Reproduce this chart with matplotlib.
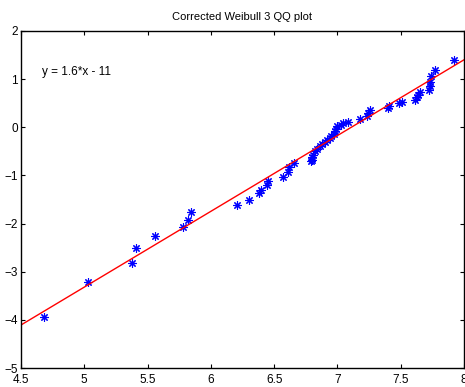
import matplotlib
matplotlib.use("Agg")
import matplotlib.pyplot as plt
import numpy as np

plt.rcParams['font.family'] = ['Liberation Sans', 'DejaVu Sans']

# sample quantiles (x) vs. reference quantiles (y)
x_data = [4.68, 5.03, 5.38, 5.41, 5.56, 5.78, 5.82, 5.84,
          6.21, 6.30, 6.38, 6.40, 6.44, 6.45, 6.57, 6.61, 6.62, 6.66,
          6.79, 6.80, 6.80, 6.81, 6.82, 6.84, 6.86, 6.88, 6.90, 6.92, 6.94,
          6.95, 6.97, 6.98, 6.99, 7.00, 7.03, 7.04, 7.08, 7.18, 7.23, 7.24,
          7.26, 7.40, 7.41, 7.49, 7.51, 7.61, 7.63, 7.64, 7.65, 7.72, 7.73,
          7.73, 7.74, 7.77, 7.92]
y_data = [-3.94, -3.22, -2.81, -2.50, -2.26, -2.08, -1.92, -1.76,
          -1.62, -1.51, -1.37, -1.31, -1.20, -1.12, -1.04, -0.92, -0.83, -0.75,
          -0.71, -0.67, -0.62, -0.58, -0.50, -0.45, -0.39, -0.34, -0.30, -0.27, -0.23,
          -0.18, -0.13, -0.08, -0.03, 0.02, 0.05, 0.09, 0.11, 0.18, 0.24, 0.30,
          0.36, 0.40, 0.45, 0.50, 0.52, 0.57, 0.62, 0.67, 0.73, 0.77, 0.86,
          0.95, 1.06, 1.18, 1.40]

slope = 1.574
intercept = -11.19
eq_label = "y = 1.6*x - 11"

fig = plt.figure(figsize=(4.65, 3.87), dpi=100)
ax = fig.add_axes([0.045, 0.049, 0.953, 0.871])

ax.plot(x_data, y_data, linestyle='none', marker=(8, 2, 0), markersize=6,
        markeredgewidth=0.8, color='#0000ff')
xl = np.array([4.5, 8.0])
ax.plot(xl, slope * xl + intercept, color='red', lw=1.0)

ax.text(4.67, 1.15, eq_label, fontsize=8.5, va='center', ha='left')
ax.set_title("Corrected Weibull 3 QQ plot", fontsize=8, pad=8)

ax.set_xlim(4.5, 8)
ax.set_ylim(-5, 2)
ax.set_xticks(np.arange(4.5, 8.01, 0.5))
ax.set_xticklabels(['4.5', '5', '5.5', '6', '6.5', '7', '7.5', '8'])
ax.set_yticks(range(-5, 3))
ax.tick_params(direction='in', top=True, right=True, labelsize=8.5, length=3, pad=2)
ax.tick_params(axis='x', pad=4)
for s in ax.spines.values():
    s.set_linewidth(1.0)

fig.savefig("out.png", dpi=100)
